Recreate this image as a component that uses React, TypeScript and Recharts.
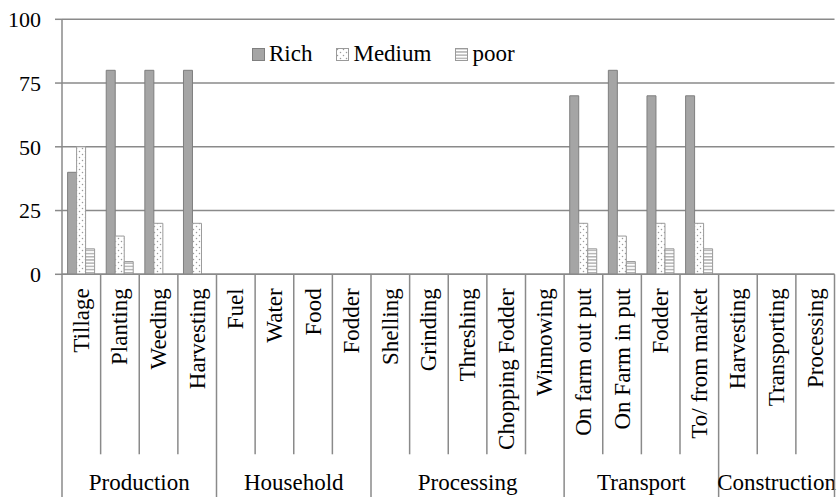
import React from "react";
import { BarChart, Bar, XAxis, YAxis, CartesianGrid } from "recharts";

const categories = [
  "Tillage", "Planting", "Weeding", "Harvesting",
  "Fuel", "Water", "Food", "Fodder",
  "Shelling", "Grinding", "Threshing", "Chopping Fodder", "Winnowing",
  "On farm out put", "On Farm in put", "Fodder", "To/ from market",
  "Harvesting", "Transporting", "Processing",
];
const groupNames = ["Production", "Household", "Processing", "Transport", "Construction"];
const groupSizes = [4, 4, 5, 4, 3];

const rich = [40, 80, 80, 80, 0, 0, 0, 0, 0, 0, 0, 0, 0, 70, 80, 70, 70, 0, 0, 0];
const medium = [50, 15, 20, 20, 0, 0, 0, 0, 0, 0, 0, 0, 0, 20, 15, 20, 20, 0, 0, 0];
const poor = [10, 5, 0, 0, 0, 0, 0, 0, 0, 0, 0, 0, 0, 10, 5, 10, 10, 0, 0, 0];

const yTicks = [0, 25, 50, 75, 100];
const seriesNames = ["Rich", "Medium", "poor"];

const data = categories.map((c, i) => ({
  key: String(i),
  rich: rich[i],
  medium: medium[i],
  poor: poor[i],
}));

const W = 838;
const H = 497;
const M = { top: 19.3, right: 3.5, left: 0, bottom: 0 };
const Y_W = 62;
const X_H = H - M.top - M.bottom - 255;
const FONT = "'Liberation Serif', 'DejaVu Serif', 'Noto Serif', 'FreeSerif', 'Nimbus Roman', 'Nimbus Roman No9 L', Times, serif";
const LINE = "#8a8a8a";

const band = (W - M.left - M.right - Y_W) / categories.length;

const groupStarts: number[] = [];
{
  let s = 0;
  for (const g of groupSizes) {
    groupStarts.push(s);
    s += g;
  }
}

const XTick = (props: any) => {
  const { x, y, payload } = props;
  const i = Number(payload.value);
  const gi = groupStarts.indexOf(i);
  const lastOfGroup = groupStarts.includes(i + 1) || i === categories.length - 1;
  return (
    <g>
      <text
        transform={`translate(${x + 7.5}, ${y + 14}) rotate(-90)`}
        textAnchor="end"
        style={{ fontFamily: FONT, fontSize: 23 }}
        fill="#000"
      >
        {categories[i]}
      </text>
      <line
        x1={x + band / 2}
        x2={x + band / 2}
        y1={y}
        y2={lastOfGroup ? H : y + 180}
        stroke={LINE}
        strokeWidth={1.5}
      />
      {i === 0 && (
        <line x1={x - band / 2} x2={x - band / 2} y1={y} y2={H} stroke={LINE} strokeWidth={1.5} />
      )}
      {gi >= 0 && (
        <text
          x={x - band / 2 + (groupSizes[gi] * band) / 2}
          y={y + 215.5}
          textAnchor="middle"
          style={{ fontFamily: FONT, fontSize: 23 }}
          fill="#000"
        >
          {groupNames[gi]}
        </text>
      )}
    </g>
  );
};

const YTick = (props: any) => {
  const { x, y, payload } = props;
  return (
    <text x={x} y={y} dy="0.35em" textAnchor="end" style={{ fontFamily: FONT, fontSize: 22 }} fill="#000">
      {payload.value}
    </text>
  );
};

const fills = ["#a5a5a5", "url(#patDots)", "url(#patLines)"];
const strokes = ["#7f7f7f", "#9a9a9a", "#9a9a9a"];

export default function App() {
  return (
    <div style={{ position: "absolute", left: 0, top: 0, width: W, height: H, background: "#fff" }}>
      <BarChart
        width={W}
        height={H}
        data={data}
        margin={M}
        barCategoryGap="14.5%"
        barGap={0}
      >
        <defs>
          <pattern id="patDots" width="6" height="6" patternUnits="userSpaceOnUse">
            <rect width="6" height="6" fill="#fff" />
            <circle cx="1.5" cy="1.5" r="0.75" fill="#9a9a9a" />
            <circle cx="4.5" cy="4.5" r="0.75" fill="#9a9a9a" />
          </pattern>
          <pattern id="patLines" width="4" height="3.2" patternUnits="userSpaceOnUse">
            <rect width="4" height="3.2" fill="#fff" />
            <rect y="0" width="4" height="1.5" fill="#b4b4b4" />
          </pattern>
        </defs>
        <CartesianGrid vertical={false} stroke={LINE} strokeWidth={1.5} />
        <XAxis
          dataKey="key"
          interval={0}
          height={X_H}
          tickLine={false}
          tickSize={0}
          tickMargin={0}
          axisLine={{ stroke: LINE, strokeWidth: 1.5 }}
          tick={<XTick />}
        />
        <YAxis
          width={Y_W}
          domain={[0, 100]}
          ticks={yTicks}
          interval={0}
          tickSize={7}
          tickMargin={14}
          tickLine={{ stroke: LINE, strokeWidth: 1.5 }}
          axisLine={{ stroke: LINE, strokeWidth: 1.5 }}
          tick={<YTick />}
        />
        <Bar dataKey="rich" name={seriesNames[0]} fill={fills[0]} stroke={strokes[0]} strokeWidth={1} isAnimationActive={false} />
        <Bar dataKey="medium" name={seriesNames[1]} fill={fills[1]} stroke={strokes[1]} strokeWidth={1} isAnimationActive={false} />
        <Bar dataKey="poor" name={seriesNames[2]} fill={fills[2]} stroke={strokes[2]} strokeWidth={1} isAnimationActive={false} />
      </BarChart>
      <div
        style={{
          position: "absolute",
          left: 252,
          top: 40,
          display: "flex",
          alignItems: "center",
          fontFamily: FONT,
          fontSize: 23,
          lineHeight: "28px",
          color: "#000",
          whiteSpace: "nowrap",
        }}
      >
        {seriesNames.map((n, i) => (
          <div key={n} style={{ display: "flex", alignItems: "center", marginRight: 24 }}>
            <svg width={13} height={13} style={{ marginRight: 4, display: "block" }}>
              <rect x={0.5} y={0.5} width={12} height={12} fill={fills[i]} stroke={strokes[i]} strokeWidth={1} />
            </svg>
            <span>{n}</span>
          </div>
        ))}
      </div>
    </div>
  );
}
